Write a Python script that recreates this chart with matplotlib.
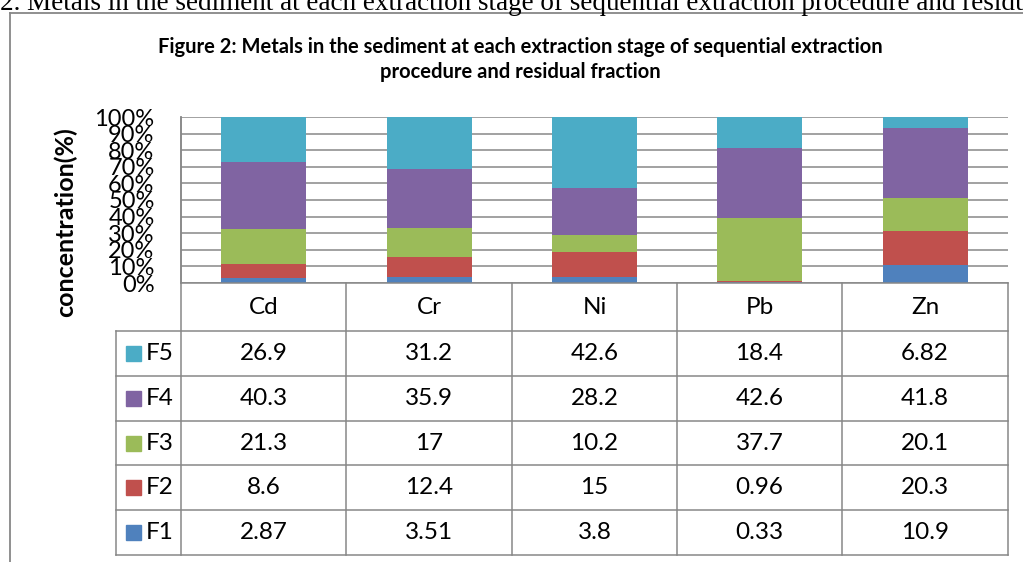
import matplotlib
matplotlib.use("Agg")
import matplotlib.pyplot as plt
from matplotlib.lines import Line2D
from matplotlib.patches import Rectangle

# ----------------
# Data
# ----------------
metals = ["Cd", "Cr", "Ni", "Pb", "Zn"]
fractions = ["F1", "F2", "F3", "F4", "F5"]
f1 = [2.87, 3.51, 3.8, 0.33, 10.9]
f2 = [8.6, 12.4, 15, 0.96, 20.3]
f3 = [21.3, 17, 10.2, 37.7, 20.1]
f4 = [40.3, 35.9, 28.2, 42.6, 41.8]
f5 = [26.9, 31.2, 42.6, 18.4, 6.82]
colors = ["#4F81BD", "#C0504D", "#9BBB59", "#8064A2", "#4BACC6"]
yticks = list(range(0, 101, 10))

series = [f1, f2, f3, f4, f5]
labels_txt = [["2.87", "3.51", "3.8", "0.33", "10.9"],
              ["8.6", "12.4", "15", "0.96", "20.3"],
              ["21.3", "17", "10.2", "37.7", "20.1"],
              ["40.3", "35.9", "28.2", "42.6", "41.8"],
              ["26.9", "31.2", "42.6", "18.4", "6.82"]]

W, H = 1023, 562
GRAY = "#878787"
FONT = "Lato"

fig = plt.figure(figsize=(W / 100, H / 100), dpi=100)


def fx(x):
    return x / W


def fy(y):
    return 1 - y / H


def hline(x0, x1, y, lw=1.1):
    fig.add_artist(Line2D([fx(x0), fx(x1)], [fy(y), fy(y)], color=GRAY, lw=lw))


def vline(x, y0, y1, lw=1.1):
    fig.add_artist(Line2D([fx(x), fx(x)], [fy(y0), fy(y1)], color=GRAY, lw=lw))


# ----------------
# Outer frame + clipped caption
# ----------------
fig.text(fx(0), fy(10), "2. Metals in the sediment at each extraction stage of sequential extraction procedure and residual fraction",
         fontsize=19.5, family="Liberation Serif", ha="left", va="baseline")
hline(10, W + 5, 13, lw=1.3)
vline(10, 13, H + 5, lw=1.3)

fig.text(fx(520), fy(53), "Figure 2: Metals in the sediment at each extraction stage of sequential extraction",
         fontsize=14.5, fontweight="bold", family=FONT, ha="center", va="baseline")
fig.text(fx(520), fy(78), "procedure and residual fraction",
         fontsize=14.5, fontweight="bold", family=FONT, ha="center", va="baseline")

# ----------------
# Stacked bars
# ----------------
x_left, x_right, y_top, y_bot = 181, 1008, 117, 283
ax = fig.add_axes([fx(x_left), fy(y_bot), fx(x_right - x_left), (y_bot - y_top) / H])

xs = list(range(len(metals)))
bottom = [0.0] * len(metals)
for vals, c in zip(series, colors):
    ax.bar(xs, vals, bottom=bottom, width=0.515, color=c, zorder=3)
    bottom = [b + v for b, v in zip(bottom, vals)]

ax.set_xlim(-0.5, len(metals) - 0.5)
ax.set_ylim(0, 100)
ax.set_yticks(yticks)
ax.set_yticklabels([f"{t}%" for t in yticks], fontsize=17, family=FONT)
ax.tick_params(axis="y", length=0, pad=19)
ax.set_xticks([])
ax.yaxis.grid(True, color=GRAY, lw=1.1, zorder=0)
for s in ["top", "right", "bottom"]:
    ax.spines[s].set_visible(False)
ax.spines["left"].set_color(GRAY)
ax.spines["left"].set_linewidth(1.1)

fig.text(fx(65), fy(222), "concentration(%)", rotation=90, fontsize=18,
         fontweight="bold", family=FONT, ha="center", va="center")

# ----------------
# Data table
# ----------------
col_edges = [181, 346, 512, 677, 842, 1008]
row_edges = [331, 376, 421, 465, 510, 555]

vline(181, 117, 555)
for x in col_edges[1:]:
    vline(x, 283, 555)
hline(181, 1008, 283)
hline(116, 1008, 331)
for y in row_edges[1:]:
    hline(116, 1008, y)
vline(116, 331, 555)

for j, m in enumerate(metals):
    cx = (col_edges[j] + col_edges[j + 1]) / 2
    fig.text(fx(cx), fy(307), m, fontsize=17.5, family=FONT, ha="center", va="center")

# rows go F5 at top down to F1
for r in range(len(fractions)):
    k = len(fractions) - 1 - r
    cy = (row_edges[r] + row_edges[r + 1]) / 2
    fig.add_artist(Rectangle((fx(126), fy(cy + 7.5)), 15 / W, 15 / H,
                             color=colors[k], transform=fig.transFigure))
    fig.text(fx(146), fy(cy), fractions[k], fontsize=17.5, family=FONT, ha="left", va="center")
    for j in range(len(metals)):
        cx = (col_edges[j] + col_edges[j + 1]) / 2
        fig.text(fx(cx), fy(cy), labels_txt[k][j], fontsize=17.5, family=FONT,
                 ha="center", va="center")

fig.savefig("out.png", dpi=100)
